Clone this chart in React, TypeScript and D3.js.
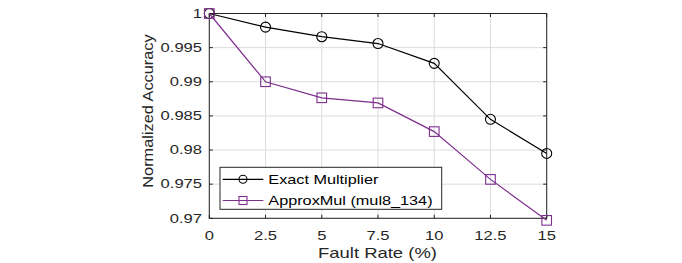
import React from "react";
import * as d3 from "d3";

const faultRates = [0, 2.5, 5, 7.5, 10, 12.5, 15];
const exactValues = [1, 0.998, 0.9966, 0.9956, 0.9927, 0.9845, 0.9795];
const approxValues = [1, 0.99, 0.98765, 0.9869, 0.9827, 0.9757, 0.9697];
const xTicks = [0, 2.5, 5, 7.5, 10, 12.5, 15];
const xTickLabels = ["0", "2.5", "5", "7.5", "10", "12.5", "15"];
const yTicks = [0.97, 0.975, 0.98, 0.985, 0.99, 0.995, 1];
const yTickLabels = ["0.97", "0.975", "0.98", "0.985", "0.99", "0.995", "1"];
const seriesNames = ["Exact Multiplier", "ApproxMul (mul8_134)"];

const FONT = "'Liberation Sans', Arial, Helvetica, sans-serif";
const AX = "#262626";
const PURPLE = "#7E2F8E";

export default function App() {
  const left = 209.3, right = 546.7, top = 13.5, bottom = 218.3;
  const x = d3.scaleLinear().domain([0, 15]).range([left, right]);
  const y = d3.scaleLinear().domain([0.97, 1]).range([bottom, top]);
  const line = d3.line<number>().x((_, i) => x(faultRates[i])).y((d) => y(d));
  const tickLen = 3.5;
  const sx = 1.38;

  const square = (cx: number, cy: number, k: string | number, color: string, h = 4.8) => (
    <rect key={k} x={cx - h} y={cy - h} width={2 * h} height={2 * h} fill="none" stroke={color} strokeWidth={1.1} />
  );
  const circle = (cx: number, cy: number, k: string | number, color: string, r = 5) => (
    <circle key={k} cx={cx} cy={cy} r={r} fill="none" stroke={color} strokeWidth={1.1} />
  );

  const legX = 220, legY = 167.3, legW = 221.7, legH = 42;
  const rows = [179.3, 200.5];

  return (
    <svg width={682} height={263} style={{ position: "absolute", left: 0, top: 0, background: "#fff" }} fontFamily={FONT}>
      <rect x={0} y={0} width={682} height={263} fill="#fff" />
      {/* grid */}
      {xTicks.map((t, i) => (
        <line key={"gx" + i} x1={x(t)} x2={x(t)} y1={top} y2={bottom} stroke="#dcdcdc" strokeWidth={1} />
      ))}
      {yTicks.map((t, i) => (
        <line key={"gy" + i} x1={left} x2={right} y1={y(t)} y2={y(t)} stroke="#dcdcdc" strokeWidth={1} />
      ))}
      {/* ticks */}
      {xTicks.map((t, i) => (
        <g key={"tx" + i} stroke={AX} strokeWidth={1}>
          <line x1={x(t)} x2={x(t)} y1={bottom} y2={bottom - tickLen} />
          <line x1={x(t)} x2={x(t)} y1={top} y2={top + tickLen} />
        </g>
      ))}
      {yTicks.map((t, i) => (
        <g key={"ty" + i} stroke={AX} strokeWidth={1}>
          <line x1={left} x2={left + tickLen} y1={y(t)} y2={y(t)} />
          <line x1={right} x2={right - tickLen} y1={y(t)} y2={y(t)} />
        </g>
      ))}
      {/* box */}
      <rect x={left} y={top} width={right - left} height={bottom - top} fill="none" stroke={AX} strokeWidth={1} />
      {/* tick labels */}
      {xTicks.map((t, i) => (
        <text key={"lx" + i} transform={`translate(${x(t)},240) scale(${sx},1)`} textAnchor="middle" fontSize={12} fill={AX}>
          {xTickLabels[i]}
        </text>
      ))}
      {yTicks.map((t, i) => (
        <text key={"ly" + i} transform={`translate(202,${y(t) + 4.3}) scale(${sx},1)`} textAnchor="end" fontSize={12} fill={AX}>
          {yTickLabels[i]}
        </text>
      ))}
      {/* axis labels */}
      <text transform={`translate(377.5,258.3) scale(1.23,1)`} textAnchor="middle" fontSize={15} fill={AX}>
        Fault Rate (%)
      </text>
      <text transform={`translate(153,111) rotate(-90) scale(1.09,1)`} textAnchor="middle" fontSize={15} fill={AX}>
        Normalized Accuracy
      </text>
      {/* series */}
      <path d={line(exactValues) || ""} fill="none" stroke="#000" strokeWidth={1.2} />
      {exactValues.map((v, i) => circle(x(faultRates[i]), y(v), "c" + i, "#000"))}
      <path d={line(approxValues) || ""} fill="none" stroke={PURPLE} strokeWidth={1.2} />
      {approxValues.map((v, i) => square(x(faultRates[i]), y(v), "s" + i, PURPLE))}
      {/* legend */}
      <rect x={legX} y={legY} width={legW} height={legH} fill="#fff" stroke={AX} strokeWidth={1} />
      <line x1={222.7} x2={263.3} y1={rows[0]} y2={rows[0]} stroke="#000" strokeWidth={1.2} />
      {circle(243, rows[0], "lc", "#000", 4)}
      <line x1={222.7} x2={263.3} y1={rows[1]} y2={rows[1]} stroke={PURPLE} strokeWidth={1.2} />
      {square(243, rows[1], "ls", PURPLE, 4)}
      <text transform={`translate(268.3,${rows[0] + 4.7}) scale(1.25,1)`} fontSize={13} fill="#000">
        {seriesNames[0]}
      </text>
      <text transform={`translate(268.3,${rows[1] + 4.7}) scale(1.25,1)`} fontSize={13} fill="#000">
        {seriesNames[1]}
      </text>
    </svg>
  );
}
